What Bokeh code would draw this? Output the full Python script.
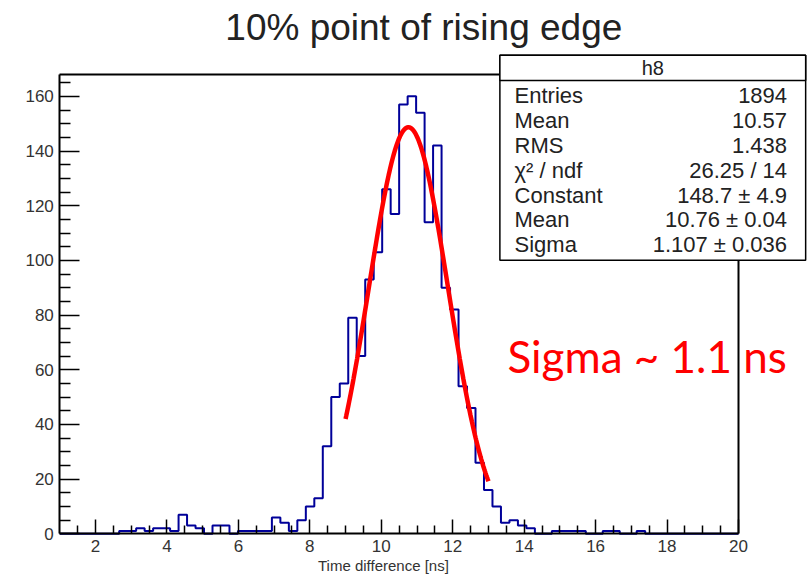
import numpy as np
from bokeh.plotting import figure
from bokeh.models import (FixedTicker, Range1d, Label, BoxAnnotation, LinearAxis)
from bokeh.embed import file_html
from bokeh.resources import INLINE

# ---- data -------------------------------------------------------------
title_text = "10% point of rising edge"
x_title = "Time difference [ns]"
hist_name = "h8"

x_min, x_max, n_bins = 1.0, 20.0, 80
y_max = 168

# counts per bin (80 bins between x_min and x_max)
counts = [
    0, 0, 0, 0, 0, 0, 0, 1, 1, 2,
    1, 2, 2, 1, 7, 3, 2, 0, 3, 3,
    0, 1, 1, 1, 1, 6, 4, 1, 5, 10,
    13, 32, 50, 55, 79, 65, 93, 103, 126, 117,
    157, 160, 154, 114, 142, 90, 82, 54, 46, 26,
    16, 10, 4, 5, 3, 2, 0, 0, 1, 1,
    1, 1, 0, 0, 1, 1, 0, 0, 1, 0,
    0, 0, 0, 0, 0, 0, 0, 0, 0, 0,
]

# gaussian fit result
fit_constant, fit_mean, fit_sigma = 148.7, 10.76, 1.107
fit_range = (9.0, 13.0)

stat_labels = ["Entries", "Mean", "RMS", "\u03c7\u00b2 / ndf", "Constant", "Mean", "Sigma"]
stat_values = ["1894", "10.57", "1.438", "26.25 / 14",
               "148.7 \u00b1 4.9", "10.76 \u00b1 0.04", "1.107 \u00b1 0.036"]

note_text = "Sigma ~ 1.1 ns"

x_ticks = list(range(2, 21, 2))
y_ticks = list(range(0, 161, 20))

# ---- canvas geometry ----------------------------------------------------
W, H = 809, 576
PAD_L, PAD_R, PAD_T, PAD_B = 59.3, 738.0, 74.0, 533.3   # axes box in pixels

sx_unit = (x_max - x_min) / (PAD_R - PAD_L)
sy_unit = y_max / (PAD_B - PAD_T)
x_lo = x_min - PAD_L * sx_unit
x_hi = x_max + (W - PAD_R) * sx_unit
y_lo = -(H - PAD_B) * sy_unit
y_hi = y_max + PAD_T * sy_unit

FONT = "Liberation Sans"
TXT = "#222222"

# the plotting area spans the whole canvas, axes sit at fixed data positions
p = figure(width=W, height=H, output_backend="svg", toolbar_location=None,
           x_range=Range1d(x_lo, x_hi), y_range=Range1d(y_lo, y_hi),
           min_border=0, x_axis_location=None, y_axis_location=None)
p.title.visible = False
p.outline_line_color = None
p.grid.visible = False
p.background_fill_color = "white"
p.border_fill_color = "white"

# histogram outline as a step contour
edges = np.linspace(x_min, x_max, n_bins + 1)
cnt = np.asarray(counts, dtype=float)
hx = np.concatenate([[edges[0]], np.repeat(edges, 2)[1:-1], [edges[-1]]])
hy = np.concatenate([[0.0], np.repeat(cnt, 2), [0.0]])
p.line(hx, hy, line_color="#000099", line_width=2)

# fitted gaussian
fx = np.linspace(fit_range[0], fit_range[1], 200)
fy = fit_constant * np.exp(-0.5 * ((fx - fit_mean) / fit_sigma) ** 2)
p.line(fx, fy, line_color="#ff0000", line_width=4.5)

# ---- axes -------------------------------------------------------------
xa = LinearAxis(fixed_location=0, bounds=(x_min, x_max),
                ticker=FixedTicker(ticks=x_ticks,
                                   minor_ticks=[float(v) for v in np.arange(1.5, 20.01, 0.5)
                                                if v % 2 != 0]))
ya = LinearAxis(fixed_location=x_min, bounds=(0, y_max),
                ticker=FixedTicker(ticks=y_ticks,
                                   minor_ticks=[v for v in range(5, 166, 5) if v % 20 != 0]))

for ax in (xa, ya):
    ax.axis_line_color = "black"
    ax.axis_line_width = 2
    ax.major_tick_line_color = "black"
    ax.minor_tick_line_color = "black"
    ax.major_tick_line_width = 1.5
    ax.minor_tick_line_width = 1.5
    ax.major_tick_out = 0
    ax.minor_tick_out = 0
    ax.major_label_text_font = FONT
    ax.major_label_text_font_size = "17px"
    ax.major_label_text_color = "#333333"
    ax.major_label_standoff = 6

xa.major_tick_in = 14
xa.minor_tick_in = 8
ya.major_tick_in = 20
ya.minor_tick_in = 11
p.add_layout(xa, "below")
p.add_layout(ya, "left")

# remaining sides of the axes box
top = LinearAxis(fixed_location=y_max, bounds=(x_min, x_max))
right = LinearAxis(fixed_location=x_max, bounds=(0, y_max))
for fr in (top, right):
    fr.ticker = FixedTicker(ticks=[])
    fr.major_label_text_font_size = "0px"
    fr.axis_line_color = "black"
    fr.axis_line_width = 2
    fr.major_tick_line_color = None
    fr.minor_tick_line_color = None
p.add_layout(top, "above")
p.add_layout(right, "right")


def text(x, y, s, size, align="left", baseline="middle", font=FONT, color=TXT):
    p.add_layout(Label(x=x, y=y, text=s, text_align=align, text_baseline=baseline,
                       text_font=font, text_font_size=size, text_color=color))


# ---- texts around the axes box -----------------------------------------
text(11.19, 185.2, title_text, "37px", align="center")
text(10.06, -11.6, x_title, "15px", align="center", color="#333333")

# ---- statistics box ---------------------------------------------------
box_l, box_r, box_t, box_b, head_b = 13.32, 21.88, 175.0, 100.1, 165.8
for bottom in (box_b, head_b):
    p.add_layout(BoxAnnotation(left=box_l, right=box_r, top=box_t, bottom=bottom,
                               fill_color="white", fill_alpha=1.0,
                               line_color="black", line_width=1.5, line_alpha=1.0))
text((box_l + box_r) / 2, (box_t + head_b) / 2, hist_name, "20px", align="center")

row_top, row_step = 160.3, 9.1
for k, (lab, val) in enumerate(zip(stat_labels, stat_values)):
    yy = row_top - k * row_step
    text(13.73, yy, lab, "22px")
    text(21.36, yy, val, "22px", align="right")

# ---- annotation -------------------------------------------------------
text(13.53, 64.9, note_text, "44px", font="Lato", color="#ff0000")

open("out.html", "w").write(file_html(p, INLINE))
